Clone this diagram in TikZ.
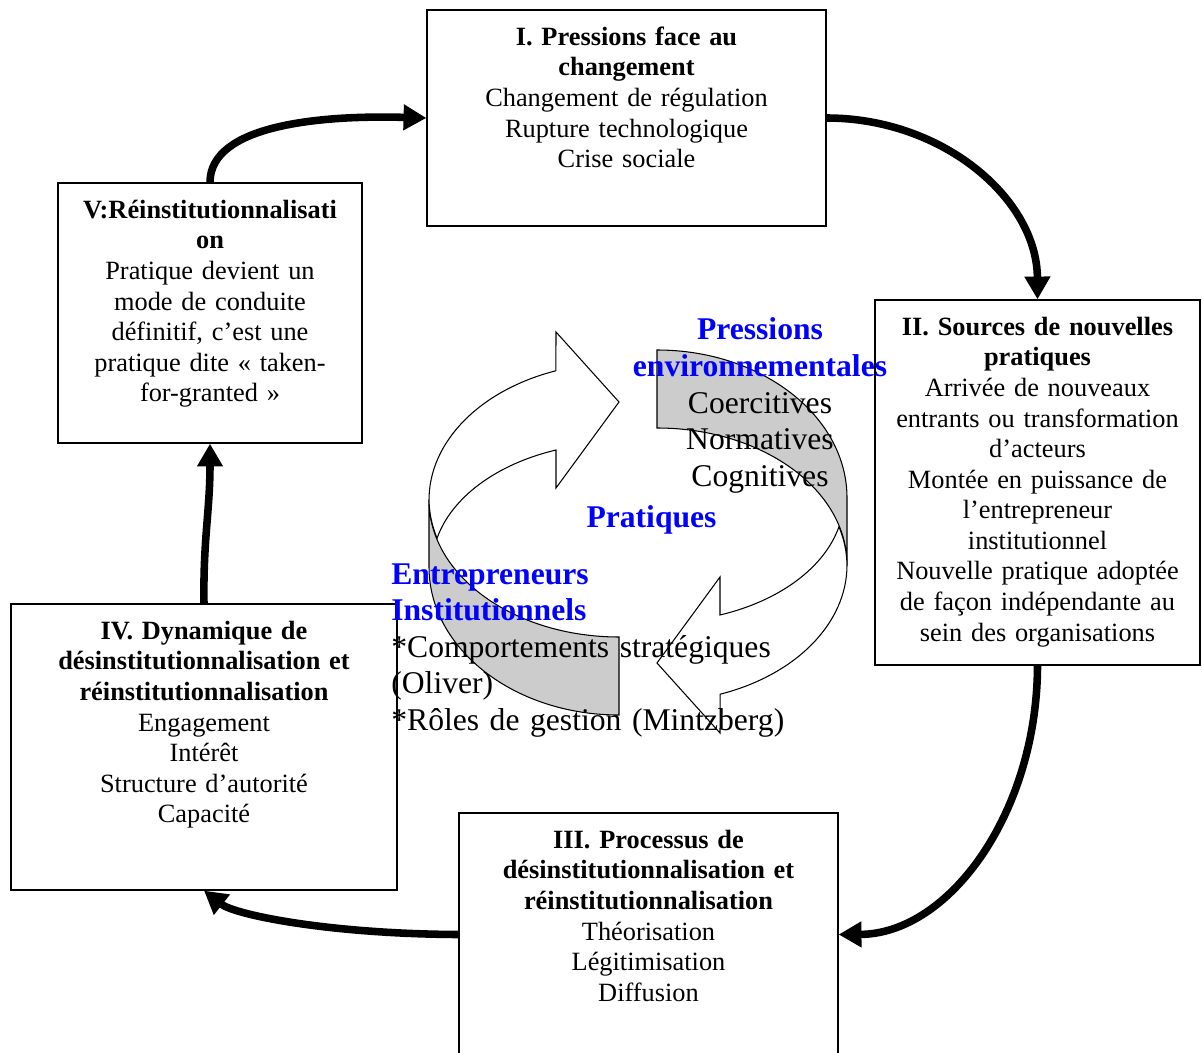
\documentclass[tikz,border=0pt]{standalone}
\usepackage{fontspec}
\setmainfont{Liberation Serif}
\usepackage{xcolor}
\usepackage{tikz}
\usetikzlibrary{arrows.meta}

\tikzset{
  stage/.style={draw, rectangle, line width=0.75pt, inner sep=0pt},
  stagetext/.style={inner sep=0pt, align=center, anchor=base, font=\fontsize{15pt}{17.4pt}\selectfont},
  bigtext/.style={inner sep=0pt, font=\fontsize{18pt}{20.8pt}\selectfont},
  flowarrow/.style={line width=4.3pt, -{Triangle[length=13pt,width=14pt]}},
  ribbonfront/.style={draw, fill=white, line width=0.6pt},
  ribbonback/.style={draw, fill=gray!40, line width=0.6pt}
}
\newcommand{\keyword}[1]{\textcolor{blue}{\textbf{#1}}}

\begin{document}
\begin{tikzpicture}[x=0.02cm, y=-0.02cm]
  \useasboundingbox (0,0) rectangle (1202,1053);

  % the five stages
  \node[stage, minimum width=7.98cm, minimum height=4.32cm] (b1) at (626.5,118) {};
  \node[stage, minimum width=6.5cm, minimum height=7.3cm] (b2) at (1037.5,482.5) {};
  \node[stage, minimum width=7.58cm, minimum height=4.86cm] (b3) at (648.5,934.5) {};
  \node[stage, minimum width=7.72cm, minimum height=5.72cm] (b4) at (204,747) {};
  \node[stage, minimum width=6.08cm, minimum height=5.2cm] (b5) at (210,313) {};

  \node[stagetext, text width=7.6cm] (t1) at ([yshift=-0.72cm]b1.north)
    {\textbf{I. Pressions face au}\\ \textbf{changement}\\ Changement de régulation\\ Rupture technologique\\ Crise sociale};
  \node[stagetext, text width=6.3cm] (t2) at ([yshift=-0.72cm]b2.north)
    {\textbf{II. Sources de nouvelles}\\ \textbf{pratiques}\\ Arrivée de nouveaux\\ entrants ou transformation\\ d’acteurs\\ Montée en puissance de\\ l’entrepreneur\\ institutionnel\\ Nouvelle pratique adoptée\\ de façon indépendante au\\ sein des organisations};
  \node[stagetext, text width=7.3cm] (t3) at ([yshift=-0.72cm]b3.north)
    {\textbf{III. Processus de}\\ \textbf{désinstitutionnalisation et}\\ \textbf{réinstitutionnalisation}\\ Théorisation\\ Légitimisation\\ Diffusion};
  \node[stagetext, text width=7.4cm] (t4) at ([yshift=-0.72cm]b4.north)
    {\textbf{IV. Dynamique de}\\ \textbf{désinstitutionnalisation et}\\ \textbf{réinstitutionnalisation}\\ Engagement\\ Intérêt\\ Structure d’autorité\\ Capacité};
  \node[stagetext, text width=5.8cm] (t5) at ([yshift=-0.72cm]b5.north)
    {\textbf{V:Réinstitutionnalisati}\\ \textbf{on}\\ Pratique devient un\\ mode de conduite\\ définitif, c’est une\\ pratique dite « taken-\\ for-granted »};

  % big arrows between stages
  \draw[flowarrow] (b5.north) .. controls (210,125) and (320,115) .. (b1.west);
  \draw[flowarrow] (b1.east) .. controls (943,118) and (1037,199) .. (b2.north);
  \draw[flowarrow] (b2.south) .. controls (1037,813) and (949,934) .. (b3.east);
  \draw[flowarrow] (b3.west) .. controls (330,934) and (235,915) .. (b4.south);
  \draw[flowarrow] (b4.north) .. controls (203,540) and (210,510) .. (b5.south);

  % circular arrows in the middle
  \draw[ribbonback] (429,500) arc[start angle=180, end angle=90, x radius=190, y radius=137]
    -- (619,715) arc[start angle=90, end angle=180, x radius=190, y radius=148] -- cycle;
  \draw[ribbonfront] (429,500) arc[start angle=180, end angle=250.6, x radius=190, y radius=137]
    -- (556,332) -- (619,402) -- (556,488) -- (556,450)
    arc[start angle=250.3, end angle=193.3, x radius=187, y radius=124]
    arc[start angle=163.3, end angle=180, x radius=190, y radius=137] -- cycle;
  \begin{scope}[rotate around={180:(638,532.5)}]
    \draw[ribbonback] (429,500) arc[start angle=180, end angle=90, x radius=190, y radius=137]
      -- (619,715) arc[start angle=90, end angle=180, x radius=190, y radius=148] -- cycle;
    \draw[ribbonfront] (429,500) arc[start angle=180, end angle=250.6, x radius=190, y radius=137]
      -- (556,332) -- (619,402) -- (556,488) -- (556,450)
      arc[start angle=250.3, end angle=193.3, x radius=187, y radius=124]
      arc[start angle=163.3, end angle=180, x radius=190, y radius=137] -- cycle;
  \end{scope}

  \node[bigtext, text width=6cm, align=center, anchor=base] (pressions) at (760,340)
    {\keyword{Pressions}\\ \keyword{environnementales}\\ Coercitives\\ Normatives\\ Cognitives};
  \node[bigtext, anchor=base] (pratiques) at (651.5,527) {\keyword{Pratiques}};
  \node[bigtext, text width=8cm, align=left, anchor=base west] (acteurs) at (391,584)
    {\keyword{Entrepreneurs}\\ \keyword{Institutionnels}\\ {*}Comportements stratégiques\\ (Oliver)\\ {*}Rôles de gestion (Mintzberg)};
\end{tikzpicture}
\end{document}
